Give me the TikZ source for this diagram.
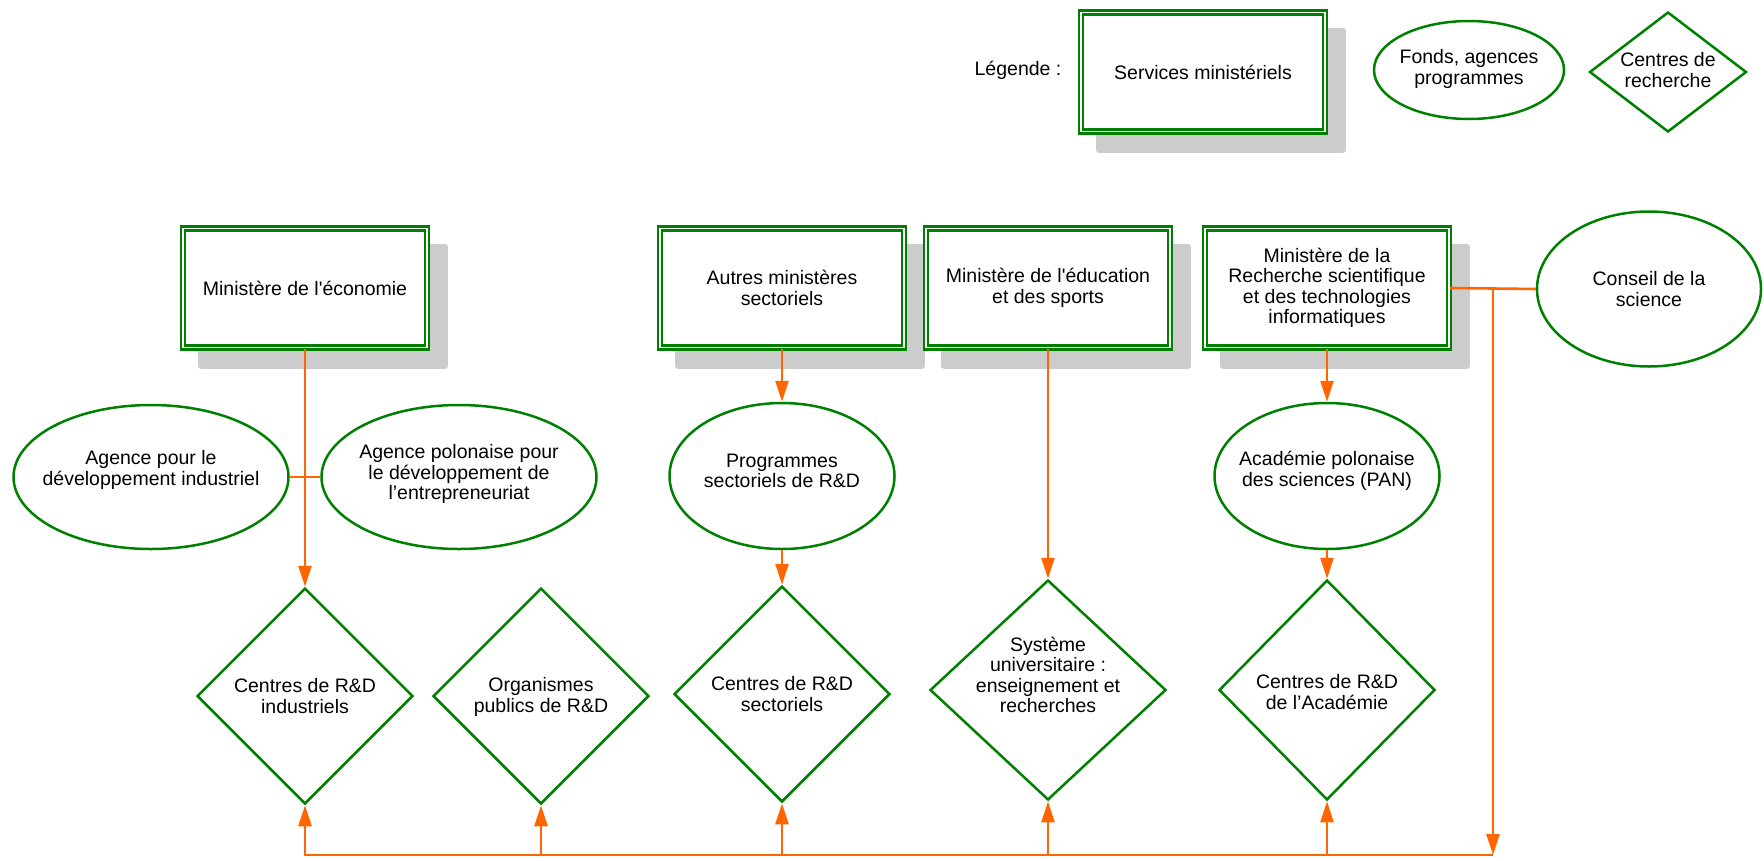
\documentclass[tikz,border=0pt]{standalone}
\usepackage{fontspec}
\setmainfont{Liberation Sans}
\usetikzlibrary{shapes.geometric,arrows.meta,shadows}
\definecolor{gr}{RGB}{0,128,0}
\definecolor{og}{RGB}{255,102,0}
\definecolor{sh}{RGB}{204,204,204}
\begin{document}
\begin{tikzpicture}[x=1pt,y=-1pt,
  every node/.style={font=\fontsize{19.5}{20.5}\selectfont, align=center, inner sep=0pt},
  minbox/.style={rectangle, draw=gr, double=white, double distance=1.6pt, line width=2.4pt,
    fill=white, minimum width=244pt, minimum height=119pt,
    drop shadow={shadow xshift=18pt, shadow yshift=-18pt, opacity=1, fill=sh, draw=sh, line width=6pt, line join=round}},
  fund/.style={ellipse, draw=gr, line width=2.5pt, fill=white},
  centre/.style={diamond, draw=gr, line width=2.5pt, fill=white},
  link/.style={draw=og, line width=2.6pt},
  arr/.style={link, -{Triangle[length=21pt,width=13pt]}}]
\useasboundingbox (0,0) rectangle (1764,860);

% legend
\node (legtxt) at (1018,70) {Légende :};
\node[minbox] (leg) at (1203,72) {Services ministériels};
\node[fund, minimum width=190pt, minimum height=98pt] (legf) at (1469,70) {};
\node (legft) at (1469,69) {Fonds, agences\\programmes};
\node[centre, minimum width=157pt, minimum height=120pt] (legc) at (1668,72) {};
\node (legct) at (1668,70) {Centres de\\recherche};

% ministries
\node[minbox] (eco) at (305,288) {Ministère de l\textquotesingle économie};
\node[minbox] (autres) at (782,288) {Autres ministères\\sectoriels};
\node[minbox] (educ) at (1048,288) {Ministère de l\textquotesingle éducation\\et des sports};
\node[minbox] (rech) at (1327,288) {Ministère de la\\Recherche scientifique\\et des technologies\\informatiques};

% funds / agencies
\node[fund, minimum width=224pt, minimum height=155pt] (conseil) at (1649,289) {};
\node (conseilt) at (1649,289) {Conseil de la\\science};
\node[fund, minimum width=275pt, minimum height=144pt] (agi) at (151,477) {};
\node (agit) at (151,470) {Agence pour le\\développement industriel};
\node[fund, minimum width=275pt, minimum height=144pt] (agp) at (459,477) {};
\node (agpt) at (459,474) {Agence polonaise pour\\le développement de\\l’entrepreneuriat};
\node[fund, minimum width=225pt, minimum height=146pt] (prog) at (782,476) {};
\node (progt) at (782,471) {Programmes\\sectoriels de R\&D};
\node[fund, minimum width=225pt, minimum height=146pt] (acad) at (1327,476) {};
\node (acadt) at (1327,471) {Académie polonaise\\des sciences (PAN)};

% research centres
\node[centre, minimum width=216pt, minimum height=216pt] (dind) at (305,696) {};
\node (dindt) at (305,696) {Centres de R\&D\\industriels};
\node[centre, minimum width=216pt, minimum height=216pt] (dorg) at (541,696) {};
\node (dorgt) at (541,697) {Organismes\\publics de R\&D};
\node[centre, minimum width=216pt, minimum height=216pt] (dsec) at (782,694) {};
\node (dsect) at (782,694) {Centres de R\&D\\sectoriels};
\node[centre, minimum width=236pt, minimum height=220pt] (duniv) at (1048,690) {};
\node (dunivt) at (1048,675) {Système\\universitaire :\\enseignement et\\recherches};
\node[centre, minimum width=216pt, minimum height=220pt] (dacad) at (1327,690) {};
\node (dacadt) at (1327,692) {Centres de R\&D\\de l’Académie};

% connectors
\coordinate (busy) at (0,855);
\draw[arr] (eco.south) -- (dind.north);
\draw[link] (agi.east) -- (agp.west);
\draw[arr] (autres.south) -- (prog.north);
\draw[arr] (prog.south) -- (dsec.north);
\draw[arr] (educ.south) -- (duniv.north);
\draw[arr] (rech.south) -- (acad.north);
\draw[arr] (acad.south) -- (dacad.north);
\draw[link] (rech.east) -- (conseil.west);
\coordinate (j) at (1493,288);
\coordinate (bend) at (j |- busy);
\draw[arr] (j) -- (bend);
\draw[arr] (bend) -- (dind.south |- busy) -- (dind.south);
\draw[arr] (dorg.south |- busy) -- (dorg.south);
\draw[arr] (dsec.south |- busy) -- (dsec.south);
\draw[arr] (duniv.south |- busy) -- (duniv.south);
\draw[arr] (dacad.south |- busy) -- (dacad.south);
\end{tikzpicture}
\end{document}
